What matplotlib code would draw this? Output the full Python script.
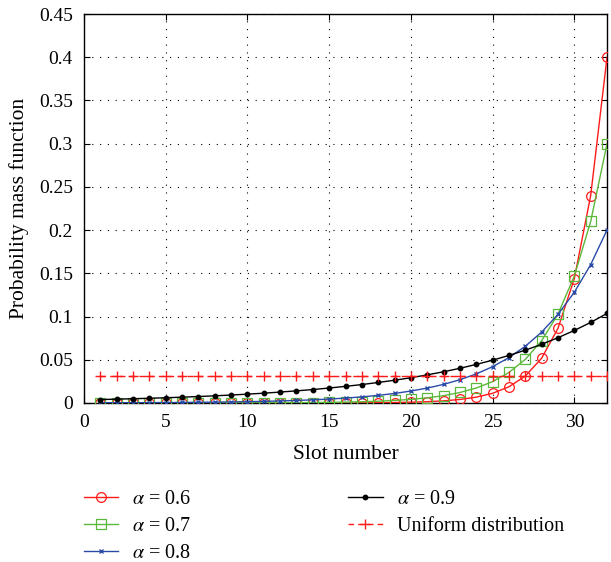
import matplotlib
matplotlib.use("Agg")
import matplotlib.pyplot as plt
from matplotlib.ticker import MultipleLocator

plt.rcParams['font.family'] = ['Liberation Serif', 'DejaVu Serif']
plt.rcParams['mathtext.fontset'] = 'stix'

slots = list(range(1, 33))

# probability values for slots 1..32
p06 = [0.0, 0.0, 0.0, 0.0, 0.0, 0.0, 0.0, 0.0,
       0.0, 0.0, 0.0, 0.0, 0.0, 0.0, 0.0, 0.0001,
       0.0002, 0.0003, 0.0005, 0.0009, 0.00145, 0.00242, 0.00403, 0.00672,
       0.0112, 0.0187, 0.0311, 0.0518, 0.0864, 0.144, 0.24, 0.40]

p07 = [0.000005, 0.000007, 0.00001, 0.000014, 0.00002, 0.000028, 0.00004, 0.000057,
       0.000082, 0.000117, 0.000168, 0.000239, 0.000342, 0.000489, 0.000698, 0.000997,
       0.00142, 0.00203, 0.00291, 0.00415, 0.00593, 0.00847, 0.0121, 0.0173,
       0.0247, 0.0353, 0.0504, 0.0720, 0.1029, 0.147, 0.21, 0.30]

p08 = [0.000198, 0.000248, 0.00031, 0.000387, 0.000484, 0.000605, 0.000756, 0.000945,
       0.00118, 0.00148, 0.00185, 0.00231, 0.00288, 0.00361, 0.00451, 0.00563,
       0.00704, 0.0088, 0.0110, 0.0138, 0.0172, 0.0215, 0.0269, 0.0336,
       0.0420, 0.0525, 0.0656, 0.0820, 0.1025, 0.1281, 0.1601, 0.2002]

p09 = [0.00395, 0.00439, 0.00488, 0.00542, 0.00602, 0.00669, 0.00743, 0.00826,
       0.00918, 0.0102, 0.0113, 0.0126, 0.0140, 0.0155, 0.0173, 0.0192,
       0.0213, 0.0237, 0.0263, 0.0292, 0.0325, 0.0361, 0.0401, 0.0446,
       0.0495, 0.0550, 0.0611, 0.0679, 0.0755, 0.0839, 0.0932, 0.1036]

uniform = [0.03125] * 32

ytick_vals = [0, 0.05, 0.1, 0.15, 0.2, 0.25, 0.3, 0.35, 0.4, 0.45]
ytick_labels = ['0', '0.05', '0.1', '0.15', '0.2', '0.25', '0.3', '0.35', '0.4', '0.45']

fig = plt.figure(figsize=(6.11, 5.62), dpi=100)
ax = fig.add_axes([0.1375, 0.283, 0.856, 0.692])

red = '#ff1a1a'
green = '#5cb83a'
blue = '#2a4aa8'

ax.plot(slots, p06, color=red, lw=1.0, marker='o', ms=7, mfc='none', mec=red, mew=0.9,
        label=r'$\alpha$ = 0.6', zorder=3)
ax.plot(slots, p07, color=green, lw=1.0, marker='s', ms=6.5, mfc='none', mec=green, mew=0.9,
        label=r'$\alpha$ = 0.7', zorder=3)
ax.plot(slots, p08, color=blue, lw=1.0, marker='x', ms=3.5, mec=blue, mew=1.0,
        label=r'$\alpha$ = 0.8', zorder=3)
ax.plot(slots, p09, color='black', lw=1.0, marker='o', ms=3.2, mfc='black', mec='black',
        label=r'$\alpha$ = 0.9', zorder=3)
ax.plot(slots, uniform, color=red, lw=1.0, ls=(0, (4, 3)), marker='+', ms=7, mew=1.0,
        label='Uniform distribution', zorder=3)

ax.set_xlim(0, 32)
ax.set_ylim(0, 0.45)
ax.xaxis.set_major_locator(MultipleLocator(5))
ax.set_yticks(ytick_vals)
ax.set_yticklabels(ytick_labels)
ax.grid(True, color='black', ls=(0, (1, 6)), lw=0.8)
ax.tick_params(direction='in', top=True, right=True, labelsize=14, length=4, pad=8)
for s in ax.spines.values():
    s.set_linewidth(1.0)

ax.set_xlabel('Slot number', fontsize=15.5, labelpad=10)
ax.set_ylabel('Probability mass function', fontsize=15.5, labelpad=7)

leg = fig.legend(loc='upper left', bbox_to_anchor=(0.114, 0.154), ncol=2, frameon=False,
                 fontsize=14.5, handlelength=1.7, columnspacing=7.8, labelspacing=0.40,
                 handletextpad=0.7, borderaxespad=0.3)

fig.savefig('out.png', dpi=100)
